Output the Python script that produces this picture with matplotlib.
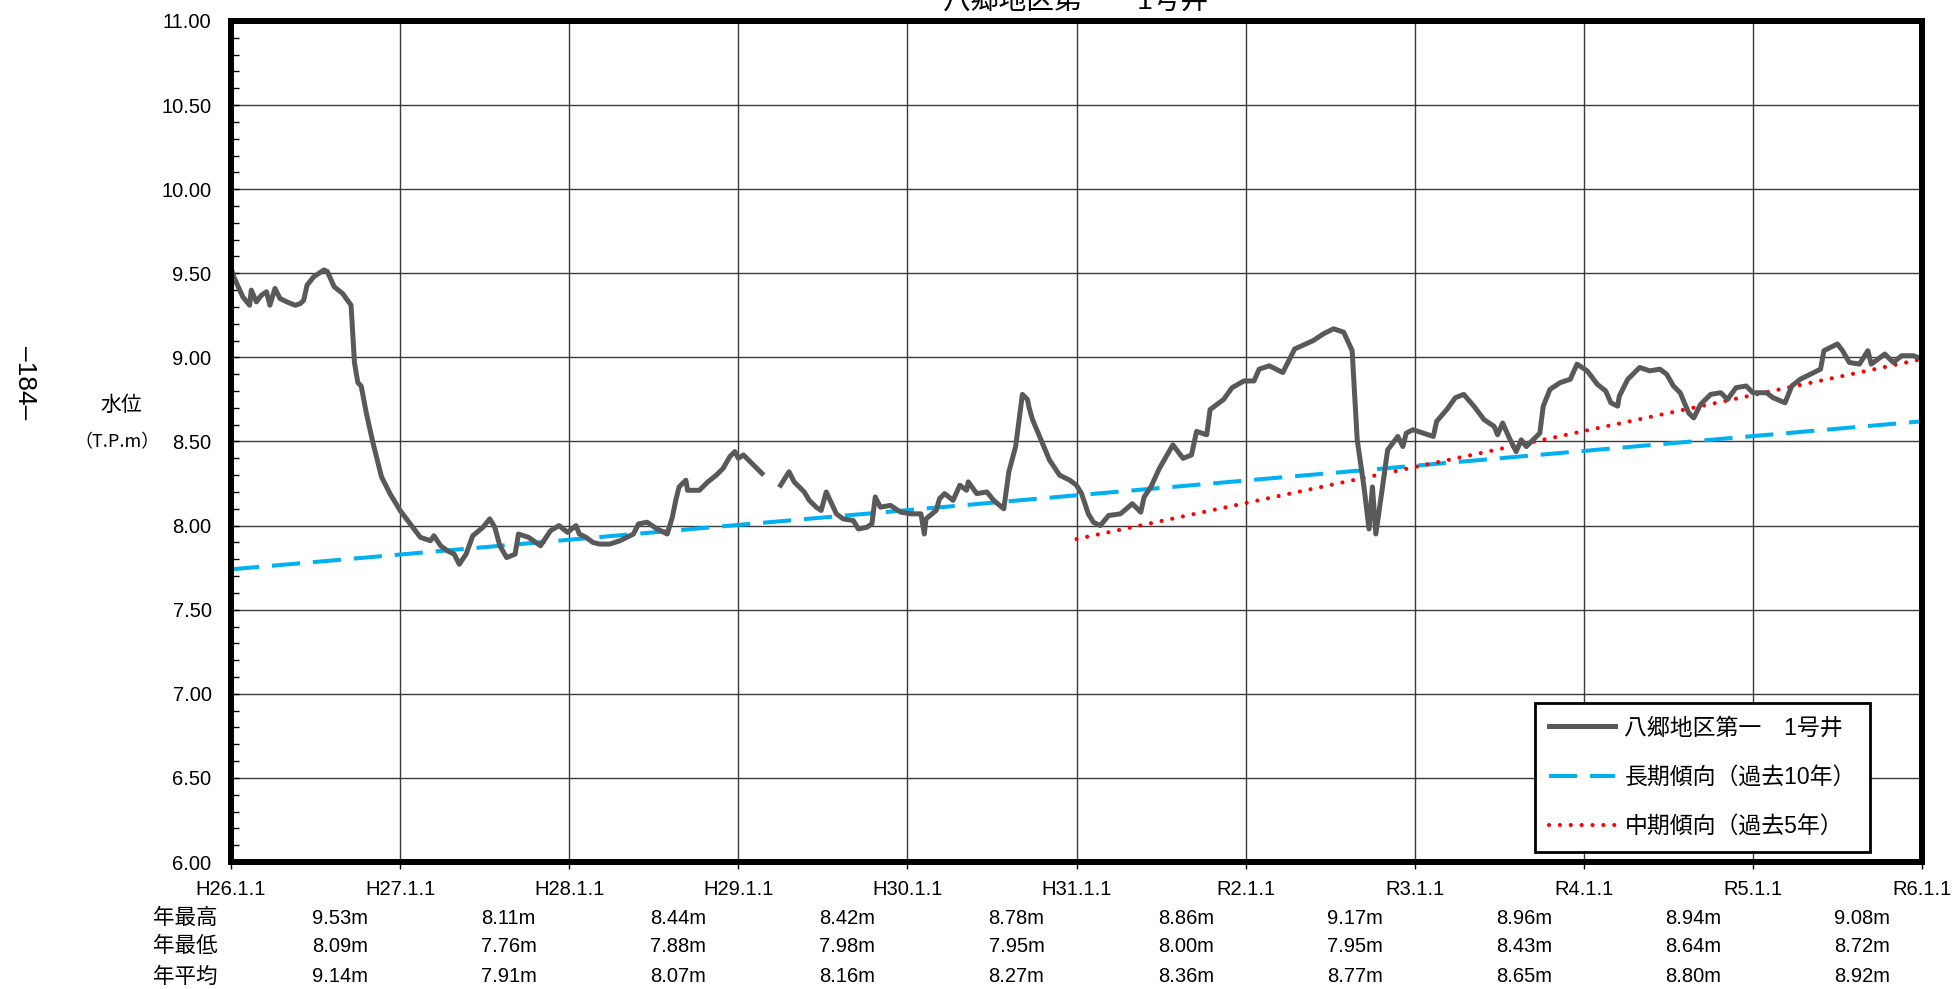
# 八郷地区第一 1号井 の水位グラフ
import numpy as np
import matplotlib
matplotlib.use('Agg')
import matplotlib.pyplot as plt
from matplotlib.ticker import MultipleLocator
from matplotlib.transforms import blended_transform_factory

plt.rcParams['font.family'] = ['Liberation Sans', 'Noto Sans CJK JP', 'DejaVu Sans']

# 経過年 (H26.1.1 = 0) と水位 (T.P.m)、nan は欠測
t_years = [0.00, 0.02, 0.07, 0.11, 0.12, 0.15, 0.18, 0.21, 0.23, 0.26, 0.29, 0.33, 0.38, 0.41, 0.43,
           0.45, 0.49, 0.55, 0.57, 0.61, 0.66, 0.71, 0.73, 0.75, 0.77, 0.80, 0.84, 0.89, 0.94, 1.00,
           1.06, 1.12, 1.18, 1.20, 1.24, 1.28, 1.32, 1.35, 1.39, 1.43, 1.49, 1.53, 1.56, 1.59, 1.63,
           1.68, 1.70, 1.76, 1.83, 1.89, 1.94, 1.99, 2.04, 2.06, 2.10, 2.14, 2.18, 2.24, 2.30, 2.38,
           2.41, 2.46, 2.52, 2.58, 2.61, 2.63, 2.65, 2.69, 2.70, 2.77, 2.82, 2.87, 2.91, 2.95, 2.98,
           3.00, 3.03, 3.08, 3.14, 3.19,
           3.25, 3.30, 3.33, 3.39, 3.42, 3.46, 3.49, 3.52, 3.58, 3.62, 3.68, 3.71, 3.76, 3.79, 3.81,
           3.84, 3.90, 3.96, 4.02, 4.08, 4.10, 4.11, 4.17, 4.19, 4.22, 4.27, 4.31, 4.35, 4.36, 4.41,
           4.47, 4.51, 4.57, 4.60, 4.64, 4.68, 4.71, 4.72, 4.74, 4.79, 4.84, 4.90, 4.96, 5.00, 5.03,
           5.07, 5.10, 5.14, 5.19, 5.26, 5.33, 5.38, 5.40, 5.44, 5.49, 5.57, 5.63, 5.68, 5.71, 5.77,
           5.79, 5.87, 5.92, 5.99, 6.05, 6.08, 6.14, 6.22, 6.29, 6.40, 6.46, 6.52, 6.58, 6.63, 6.66,
           6.70, 6.73, 6.75, 6.77, 6.79, 6.84, 6.90, 6.93, 6.95, 6.99, 7.11, 7.13, 7.19, 7.24, 7.29,
           7.35, 7.41, 7.47, 7.49, 7.52, 7.56, 7.60, 7.63, 7.66, 7.70, 7.74, 7.76, 7.80, 7.86, 7.92,
           7.96, 8.02, 8.08, 8.13, 8.16, 8.20, 8.21, 8.26, 8.33, 8.39, 8.45, 8.49, 8.53, 8.57, 8.62,
           8.65, 8.69, 8.75, 8.81, 8.85, 8.90, 8.96, 9.00, 9.08, 9.12, 9.19, 9.23, 9.28, 9.34, 9.40,
           9.42, 9.50, 9.53, 9.57, 9.63, 9.68, 9.70, 9.78, 9.83, 9.88, 9.95, 10.00]
level = [9.53, 9.47, 9.36, 9.31, 9.40, 9.33, 9.37, 9.39, 9.31, 9.41, 9.35, 9.33, 9.31, 9.32, 9.34,
         9.43, 9.48, 9.52, 9.51, 9.42, 9.38, 9.31, 8.97, 8.85, 8.83, 8.67, 8.49, 8.29, 8.19, 8.09,
         8.01, 7.93, 7.91, 7.94, 7.88, 7.85, 7.83, 7.77, 7.83, 7.94, 7.99, 8.04, 7.99, 7.88, 7.81,
         7.83, 7.95, 7.93, 7.88, 7.97, 8.00, 7.96, 8.00, 7.95, 7.93, 7.90, 7.89, 7.89, 7.91, 7.95,
         8.01, 8.02, 7.98, 7.95, 8.05, 8.15, 8.23, 8.27, 8.21, 8.21, 8.26, 8.30, 8.34, 8.41, 8.44,
         8.40, 8.42, 8.37, 8.31, np.nan,
         8.24, 8.32, 8.26, 8.20, 8.15, 8.11, 8.09, 8.20, 8.07, 8.04, 8.03, 7.98, 7.99, 8.01, 8.17,
         8.11, 8.12, 8.08, 8.07, 8.07, 7.95, 8.04, 8.09, 8.16, 8.19, 8.15, 8.24, 8.21, 8.26, 8.19,
         8.20, 8.15, 8.10, 8.32, 8.47, 8.78, 8.75, 8.70, 8.63, 8.51, 8.39, 8.30, 8.27, 8.24, 8.19,
         8.07, 8.02, 8.00, 8.06, 8.07, 8.13, 8.08, 8.17, 8.23, 8.34, 8.48, 8.40, 8.42, 8.56, 8.54,
         8.69, 8.75, 8.82, 8.86, 8.86, 8.93, 8.95, 8.91, 9.05, 9.10, 9.14, 9.17, 9.15, 9.04, 8.51,
         8.23, 7.98, 8.23, 7.95, 8.09, 8.45, 8.53, 8.47, 8.55, 8.57, 8.53, 8.62, 8.69, 8.76, 8.78,
         8.71, 8.63, 8.59, 8.54, 8.61, 8.52, 8.44, 8.51, 8.47, 8.51, 8.55, 8.71, 8.81, 8.85, 8.87,
         8.96, 8.92, 8.84, 8.80, 8.73, 8.71, 8.77, 8.87, 8.94, 8.92, 8.93, 8.90, 8.83, 8.79, 8.67,
         8.64, 8.72, 8.78, 8.79, 8.75, 8.82, 8.83, 8.79, 8.79, 8.76, 8.73, 8.83, 8.87, 8.90, 8.93,
         9.04, 9.08, 9.04, 8.97, 8.96, 9.04, 8.96, 9.02, 8.97, 9.01, 9.01, 8.99]

# 傾向線 (始点・終点)
trend_long_x = [0, 10]
trend_long_y = [7.74, 8.62]
trend_mid_x = [5, 10]
trend_mid_y = [7.92, 8.99]

x_labels = ['H26.1.1', 'H27.1.1', 'H28.1.1', 'H29.1.1', 'H30.1.1', 'H31.1.1',
            'R2.1.1', 'R3.1.1', 'R4.1.1', 'R5.1.1', 'R6.1.1']
row_names = ['年最高', '年最低', '年平均']
year_max = ['9.53m', '8.11m', '8.44m', '8.42m', '8.78m', '8.86m', '9.17m', '8.96m', '8.94m', '9.08m']
year_min = ['8.09m', '7.76m', '7.88m', '7.98m', '7.95m', '8.00m', '7.95m', '8.43m', '8.64m', '8.72m']
year_avg = ['9.14m', '7.91m', '8.07m', '8.16m', '8.27m', '8.36m', '8.77m', '8.65m', '8.80m', '8.92m']

fig = plt.figure(figsize=(19.53, 9.89), dpi=100)
ax = fig.add_axes([0.11828, 0.12841, 0.86585, 0.85036])

ax.plot(t_years, level, color='#595959', lw=3.6, solid_joinstyle='round',
        label='八郷地区第一　1号井', zorder=4)
ax.plot(trend_long_x, trend_long_y, color='#00B0F0', lw=2.9, dashes=(7, 3.2),
        label='長期傾向（過去10年）', zorder=3)
ax.plot(trend_mid_x, trend_mid_y, color='#FF0000', lw=3, linestyle=(0, (0.01, 2.6)),
        dash_capstyle='round', label='中期傾向（過去5年）', zorder=3)

ax.set_xlim(0, 10)
ax.set_ylim(6, 11)
ax.set_xticks(range(11))
ax.set_xticklabels(x_labels)
yt = np.arange(6, 11.01, 0.5)
ax.set_yticks(yt)
ax.set_yticklabels([f'{v:.2f}' for v in yt])
ax.yaxis.set_minor_locator(MultipleLocator(0.1))
ax.tick_params(axis='y', which='both', direction='in', length=6, width=1, pad=14, labelsize=14.5)
ax.tick_params(axis='x', direction='out', length=5, width=1, pad=8, labelsize=14.5)
ax.grid(True, which='major', color='#3a3a3a', lw=1.0)
for s in ax.spines.values():
    s.set_linewidth(4.3)
    s.set_zorder(6)

leg = ax.legend(loc='lower right', bbox_to_anchor=(0.969, 0.012), borderaxespad=0,
                fontsize=16.5, frameon=True, fancybox=False, edgecolor='black', framealpha=1,
                handlelength=2.9, labelspacing=1.15, borderpad=0.6, handletextpad=0.4)
leg.get_frame().set_linewidth(2)
leg.set_zorder(7)

# タイトル (上が切れている)
fig.text(1076 / 1953, 1 - 9 / 989, '八郷地区第一　1号井', ha='center', va='baseline', fontsize=20)
fig.text(25 / 1953, 1 - 383 / 989, '–184–', rotation=-90, ha='center', va='center', fontsize=19)
fig.text(121 / 1953, 1 - 405 / 989, '水位', ha='center', va='center', fontsize=15)
fig.text(117 / 1953, 1 - 442 / 989, '（T.P.m）', ha='center', va='center', fontsize=13,
         family=['Noto Sans CJK JP', 'DejaVu Sans'])

# 年最高・最低・平均の表
tr = blended_transform_factory(ax.transData, fig.transFigure)
row_y = [1 - 918 / 989, 1 - 947 / 989, 1 - 977 / 989]
for name, vals, y in zip(row_names, [year_max, year_min, year_avg], row_y):
    ax.text(-0.077, y, name, transform=tr, ha='right', va='center', fontsize=15.5)
    for i, v in enumerate(vals):
        ax.text(i + 0.48, y, v, transform=tr, ha='left', va='center', fontsize=14.5)

fig.savefig('out.png', dpi=100)
